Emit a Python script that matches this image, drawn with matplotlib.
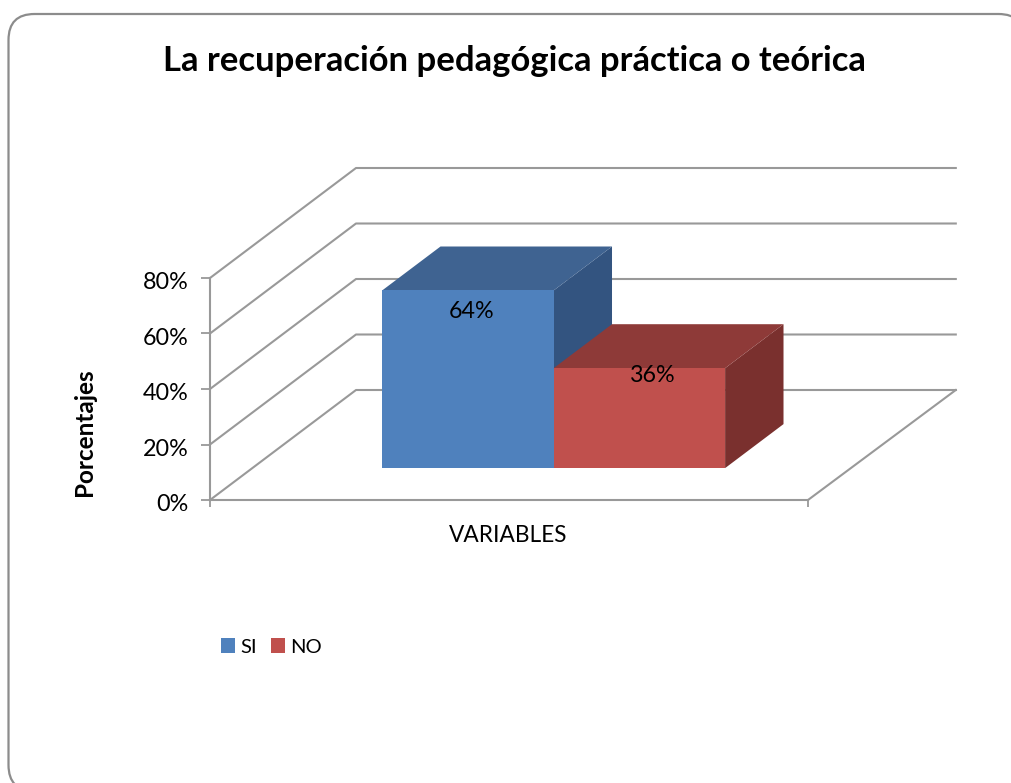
import matplotlib
matplotlib.use("Agg")
import matplotlib.pyplot as plt
from matplotlib.patches import FancyBboxPatch, Patch, Polygon
from matplotlib.transforms import IdentityTransform, ScaledTranslation

plt.rcParams['font.family'] = ['Lato', 'DejaVu Sans']

# Data
titulo = "La recuperación pedagógica práctica o teórica"
series = ["SI", "NO"]
valores = [64, 36]
etiquetas = ["64%", "36%"]
yticks = [0, 20, 40, 60, 80]
ytick_labels = ["0%", "20%", "40%", "60%", "80%"]
categoria = "VARIABLES"
ylabel = "Porcentajes"

# front, top, side colours of each bar
colores = [("#4F81BD", "#3F6391", "#335480"),
           ("#C0504D", "#8E3A38", "#7A302E")]
GRIS = "#999999"

W, H = 1011, 783
fig = plt.figure(figsize=(W / 100, H / 100), dpi=100, facecolor="white")

# rounded chart border, runs off the right and bottom of the picture
fig.add_artist(FancyBboxPatch((8.5, H - 791), 1016, 777,
                              boxstyle="round,pad=0,rounding_size=26",
                              transform=IdentityTransform(),
                              fc="white", ec="#8C8C8C", lw=1.6, zorder=-1))

# axes box is the front face of the 3d plot: 0-80% at x 210..808
x0, x1, y0, y80 = 210, 808, 500, 278
ax = fig.add_axes([x0 / W, (H - y0) / H, (x1 - x0) / W, (y0 - y80) / H])
ax.set_xlim(0, 1)
ax.set_ylim(0, 80)
ax.patch.set_alpha(0)

# depth of the floor, in axis units
depth_x = 146 / (x1 - x0)
depth_y = 110 / ((y0 - y80) / 80)
back_end = 1.003


def proj(x, y, d):
    return (x + d * depth_x, y + d * depth_y)


# walls and gridlines
for t in yticks:
    ax.plot(*zip(proj(0, t, 0), proj(0, t, 1), proj(back_end, t, 1)),
            color=GRIS, lw=1.5, clip_on=False, zorder=1)
ax.plot(*zip(proj(1, 0, 0), proj(back_end, 0, 1)), color=GRIS, lw=1.5, clip_on=False, zorder=1)

# bars, sitting part way back on the floor
bar_w = 171.5 / (x1 - x0)
bar_x = [0.217, 0.217 + bar_w]
d0, d1 = 0.29, 0.69
for i, v in enumerate(valores):
    xa, xb = bar_x[i], bar_x[i] + bar_w
    front, top, side = colores[i]
    ax.add_patch(Polygon([proj(xb, 0, d0), proj(xb, v, d0), proj(xb, v, d1), proj(xb, 0, d1)],
                         fc=side, ec="none", clip_on=False, zorder=2 + i))
    ax.add_patch(Polygon([proj(xa, v, d0), proj(xb, v, d0), proj(xb, v, d1), proj(xa, v, d1)],
                         fc=top, ec="none", clip_on=False, zorder=2 + i))
    ax.add_patch(Polygon([proj(xa, 0, d0), proj(xb, 0, d0), proj(xb, v, d0), proj(xa, v, d0)],
                         fc=front, ec="none", clip_on=False, zorder=2 + i))

# data labels, nudged from the top front edge of each bar
label_off = [(0.007, -7.7), (0.023, -2.5)]
for i, s in enumerate(etiquetas):
    lx, ly = proj(bar_x[i] + bar_w / 2 + label_off[i][0], valores[i] + label_off[i][1], d0)
    ax.text(lx, ly, s, ha="center", va="center", fontsize=16.8, color="black",
            zorder=6, clip_on=False)

# real axes, ticks and labels
for s in ["top", "right"]:
    ax.spines[s].set_visible(False)
for s in ["left", "bottom"]:
    ax.spines[s].set_color(GRIS)
    ax.spines[s].set_linewidth(1.5)
ax.set_yticks(yticks)
ax.set_yticklabels(ytick_labels, fontsize=16.8)
ax.set_xticks([0, 1])
ax.set_xticklabels(["", ""])
ax.tick_params(axis="y", length=6.5, width=1.3, color=GRIS, pad=9)
ax.tick_params(axis="x", length=5, width=1.3, color=GRIS)
for lab in ax.get_yticklabels():
    lab.set_transform(lab.get_transform() + ScaledTranslation(0, -2 / 72, fig.dpi_scale_trans))

fig.text(508.5 / W, 1 - 535 / H, categoria, ha="center", va="center", fontsize=16.3)
fig.text(85 / W, 1 - 432 / H, ylabel, ha="center", va="center", rotation=90,
         fontsize=17.5, fontweight="bold")
fig.text(514.5 / W, 1 - 61 / H, titulo, ha="center", va="center", fontsize=24.9,
         fontweight="bold")

handles = [Patch(fc=colores[i][0], ec="none", label=series[i]) for i in range(2)]
fig.legend(handles=handles, ncol=2, frameon=False, fontsize=14.5,
           loc="center left", bbox_to_anchor=(221 / W, 1 - 647 / H),
           handlelength=0.7, handleheight=0.72, handletextpad=0.25,
           columnspacing=0.7, borderpad=0, borderaxespad=0)

fig.savefig("out.png", dpi=100, facecolor="white")
